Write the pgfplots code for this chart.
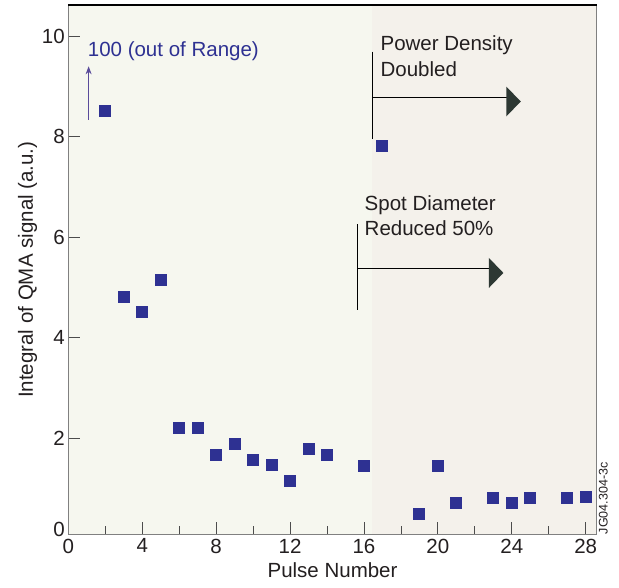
\documentclass[border=0pt]{standalone}
\usepackage{fontspec}
\setmainfont{Liberation Sans}
\usepackage{pgfplots}
\pgfplotsset{compat=1.18}
\usetikzlibrary{arrows.meta}
\definecolor{txt}{HTML}{231F20}
\definecolor{mk}{HTML}{2E3192}
\definecolor{bgL}{HTML}{F6F7EF}
\definecolor{bgR}{HTML}{F4F1EB}
\definecolor{arr}{HTML}{2D3833}
\definecolor{pur}{HTML}{5A4B9A}
\begin{document}
\begin{tikzpicture}[font=\fontsize{20.5}{24}\selectfont, text=txt]
\begin{axis}[
  set layers,
  scale only axis, width=528.5pt, height=529.3pt,
  xmin=0, xmax=28.6, ymin=0.09, ymax=10.62,
  xtick={0,4,...,28}, minor x tick num=1,
  ytick={2,4,6,8,10},
  extra y ticks={0.09}, extra y tick labels={0},
  extra y tick style={yticklabel style={yshift=5pt}, major tick length=0pt},
  minor y tick num=0,
  xtick pos=bottom, ytick pos=left,
  tick align=inside, major tick length=12pt, minor tick length=8pt,
  tick style={draw=black!70, line width=0.8pt},
  axis line style={draw=black!50, line width=1.3pt},
  /pgf/number format/assume math mode=true,
  xticklabel style={yshift=-1pt},
  xlabel={Pulse Number},
  ylabel={Integral of QMA signal (a.u.)},
  xlabel style={yshift=-2pt},
  ylabel style={yshift=-2pt},
]
\begin{pgfonlayer}{axis background}
\fill[bgL] (axis cs:0,0.09) rectangle (axis cs:16.45,10.62);
\fill[bgR] (axis cs:16.45,0.09) rectangle (axis cs:28.6,10.62);
\end{pgfonlayer}
\addplot[only marks, mark=square*, mark size=5.5pt, color=mk, mark options={fill=mk, draw=mk, line width=0pt}] coordinates {
(2,8.51) (3,4.81) (4,4.52) (5,5.15) (6,2.20) (7,2.20) (8,1.67) (9,1.88)
(10,1.57) (11,1.47) (12,1.16) (13,1.79) (14,1.67) (16,1.45) (17,7.82)
(19,0.49) (20,1.45) (21,0.71) (23,0.81) (24,0.71) (25,0.81) (27,0.81) (28,0.83)
};
% Power density doubled
\draw[black, line width=0.8pt] (axis cs:16.43,9.69) -- (axis cs:16.43,7.96);
\draw[black, line width=0.8pt] (axis cs:16.43,8.79) -- (axis cs:23.9,8.79);
\fill[arr] (axis cs:23.70,8.79) ++(0,15pt) -- ++(14.5pt,-15pt) -- ++(-14.5pt,-15pt) -- cycle;
\node[anchor=base west, inner sep=0pt] at (axis cs:16.89,9.71) {Power Density};
\node[anchor=base west, inner sep=0pt] at (axis cs:16.89,9.20) {Doubled};
% Spot diameter reduced
\draw[black, line width=0.8pt] (axis cs:15.66,6.26) -- (axis cs:15.66,4.55);
\draw[black, line width=0.8pt] (axis cs:15.66,5.38) -- (axis cs:23.0,5.38);
\fill[arr] (axis cs:22.76,5.38) ++(0,15pt) -- ++(14.5pt,-15pt) -- ++(-14.5pt,-15pt) -- cycle;
\node[anchor=base west, inner sep=0pt] at (axis cs:16.03,6.54) {Spot Diameter};
\node[anchor=base west, inner sep=0pt] at (axis cs:16.03,6.03) {Reduced 50\%};
% out of range
\draw[pur, line width=0.9pt, -{Stealth[length=8pt,width=6pt]}] (axis cs:1.10,8.34) -- (axis cs:1.10,9.40);
\node[anchor=base west, inner sep=0pt, text=mk] at (axis cs:1.05,9.59) {100 (out of Range)};
\end{axis}
\draw[black, line width=1.3pt] (current axis.north west) -- (current axis.north east);
\node[rotate=90, anchor=north west, inner sep=0pt, font=\fontsize{12.5}{14}\selectfont] at ([xshift=2pt]current axis.south east) {JG04.304-3c};
\path (current axis.south west) ++(-68.3pt,-53.7pt) rectangle ++(619pt,588pt);
\end{tikzpicture}
\end{document}
